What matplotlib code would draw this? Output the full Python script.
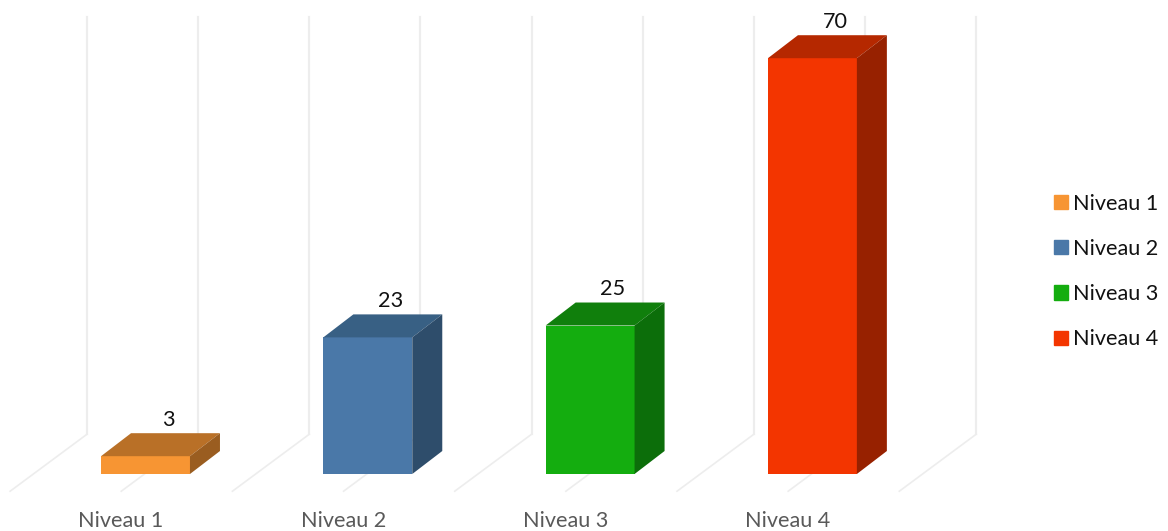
import matplotlib
matplotlib.use("Agg")
import matplotlib.pyplot as plt
from matplotlib.patches import Polygon, Patch

plt.rcParams['font.family'] = ['Lato', 'DejaVu Sans']

categories = ['Niveau 1', 'Niveau 2', 'Niveau 3', 'Niveau 4']
values = [3, 23, 25, 70]
front_colors = ['#F79533', '#4A78A8', '#14AD0F', '#F33500']
top_colors = ['#B97027', '#386084', '#107F0C', '#B52800']
side_colors = ['#9A5D20', '#2E4D6B', '#0C6E0A', '#972100']

fig = plt.figure(figsize=(11.68, 5.31), dpi=100)
ax = fig.add_axes([0, 0, 1, 1])
# x in category units, y in value units, so the bars come from the data
ax.set_xlim(-145.5/222.3, (1168-145.5)/222.3)
ax.set_ylim(-57/5.94, 474/5.94)
ax.axis('off')

half = 0.2
depth_x, depth_y = 0.135, 3.87

# back wall + floor lines
grid_color = '#EDEDED'
for k in range(9):
    gx = -0.263 + k*0.5
    ax.plot([gx, gx], [6.7, 76.9], color=grid_color, lw=1.6, zorder=1)
    ax.plot([gx, gx-0.346], [6.7, -2.9], color=grid_color, lw=1.2, zorder=1)

for i, v in enumerate(values):
    l, r = i-half, i+half
    ax.add_patch(Polygon([(l, 0), (r, 0), (r, v), (l, v)], color=front_colors[i], lw=0, zorder=3))
    ax.add_patch(Polygon([(l, v), (r, v), (r+depth_x, v+depth_y), (l+depth_x, v+depth_y)],
                         color=top_colors[i], lw=0, zorder=3))
    ax.add_patch(Polygon([(r, 0), (r+depth_x, depth_y), (r+depth_x, v+depth_y), (r, v)],
                         color=side_colors[i], lw=0, zorder=3))
    ax.text(i+0.103, v+depth_y+2.2, str(v), ha='center', va='center', fontsize=15.6, color='#111111')
    ax.text(i-0.11, -7.9, categories[i], ha='center', va='center', fontsize=15.6, color='#595959')

handles = [Patch(color=c, label=n) for c, n in zip(front_colors, categories)]
ax.legend(handles=handles, loc='center left', bbox_to_anchor=(1054/1168, 1-271.5/531),
          frameon=False, fontsize=15.6, handlelength=0.645, handleheight=0.645,
          handletextpad=0.23, labelspacing=1.165, borderpad=0, borderaxespad=0,
          labelcolor='#111111')

fig.savefig('out.png', dpi=100)
